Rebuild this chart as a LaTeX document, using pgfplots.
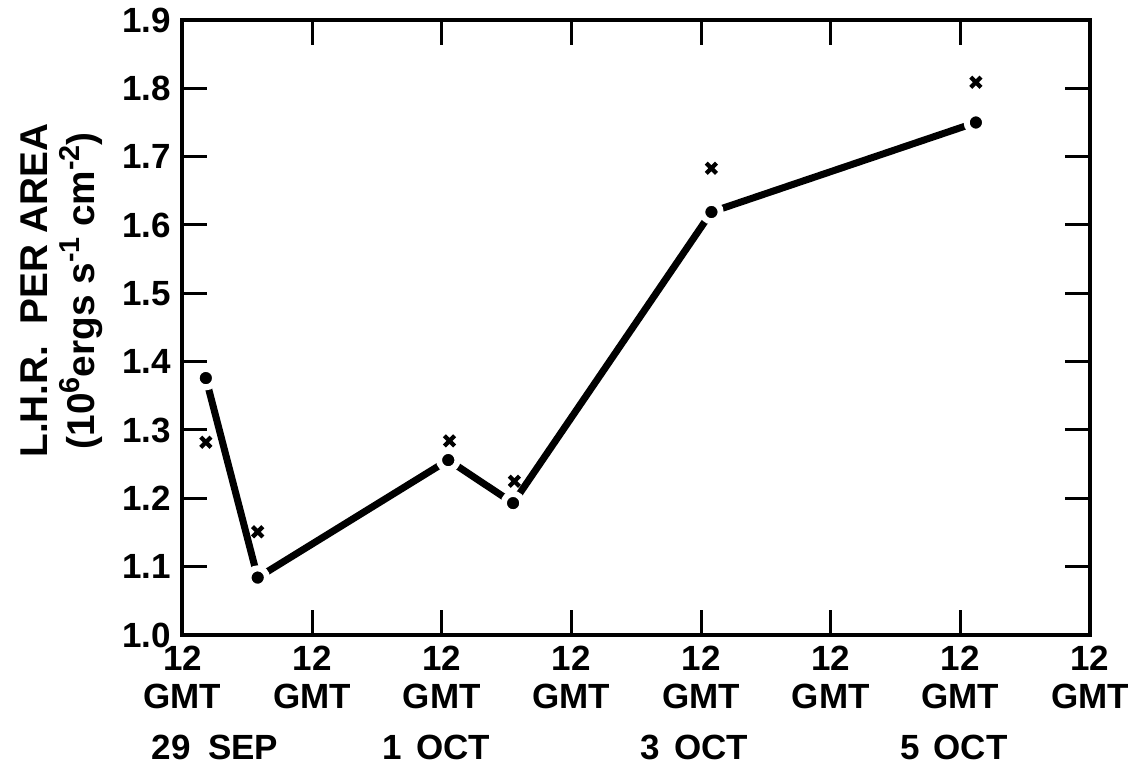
\documentclass[border=0pt]{standalone}
\usepackage{fontspec}
\setmainfont{Liberation Sans}
\usepackage{pgfplots}
\pgfplotsset{compat=1.18}
\newcommand{\lblfont}{\fontsize{14}{15}\selectfont\bfseries}
\newcommand{\supx}[1]{\raisebox{0.75ex}{\fontsize{11.5}{11.5}\selectfont #1}}
\begin{document}
\begin{tikzpicture}
\begin{axis}[
  scale only axis, width=363pt, height=246pt,
  xmin=0, xmax=7, ymin=1.0, ymax=1.9,
  clip=false,
  xtick={0,1,2,3,4,5,6,7},
  xticklabels={12\\GMT,12\\GMT,12\\GMT,12\\GMT,12\\GMT,12\\GMT,12\\GMT,12\\GMT},
  ytick={1.0,1.1,1.2,1.3,1.4,1.5,1.6,1.7,1.8,1.9},
  tick align=inside, major tick length=10pt,
  axis line style={line width=1.6pt},
  every tick/.style={black, line width=1.2pt},
  tick label style={font=\lblfont},
  xticklabel style={align=center, yshift=-1pt},
  yticklabel style={xshift=-1pt, /pgf/number format/.cd, fixed, fixed zerofill, precision=1, assume math mode=true},
  ylabel={L.H.R.\ \ PER AREA\\(10\supx{6}ergs s\supx{-1} cm\supx{-2})},
  ylabel style={font=\fontsize{15.5}{19}\selectfont\bfseries, align=center, at={(axis description cs:-0.078,0.56)}, anchor=south},
]
\addplot[black, line width=2.8pt, mark=*, mark size=3.7pt,
  mark options={fill=black, draw=white, line width=2.4pt}]
  coordinates {(0.18,1.376) (0.58,1.084) (2.05,1.256) (2.55,1.193) (4.08,1.619) (6.12,1.750)};
\addplot[only marks, black, mark=x, mark size=2.9pt, mark options={line width=1.7pt}]
  coordinates {(0.18,1.282) (0.58,1.151) (2.06,1.284) (2.56,1.225) (4.08,1.683) (6.12,1.809)};
\node[font=\lblfont, yshift=-45pt] at (axis cs:0.25,1.0) {29\hspace{0.5em}SEP};
\node[font=\lblfont, yshift=-45pt] at (axis cs:1.96,1.0) {1\hspace{0.4em}OCT};
\node[font=\lblfont, yshift=-45pt] at (axis cs:3.95,1.0) {3\hspace{0.4em}OCT};
\node[font=\lblfont, yshift=-45pt] at (axis cs:5.95,1.0) {5\hspace{0.4em}OCT};
\end{axis}
\pgfresetboundingbox
\path[use as bounding box] ([xshift=-73pt,yshift=-59pt]current axis.south west) rectangle ([xshift=20pt,yshift=8pt]current axis.north east);
\end{tikzpicture}
\end{document}
